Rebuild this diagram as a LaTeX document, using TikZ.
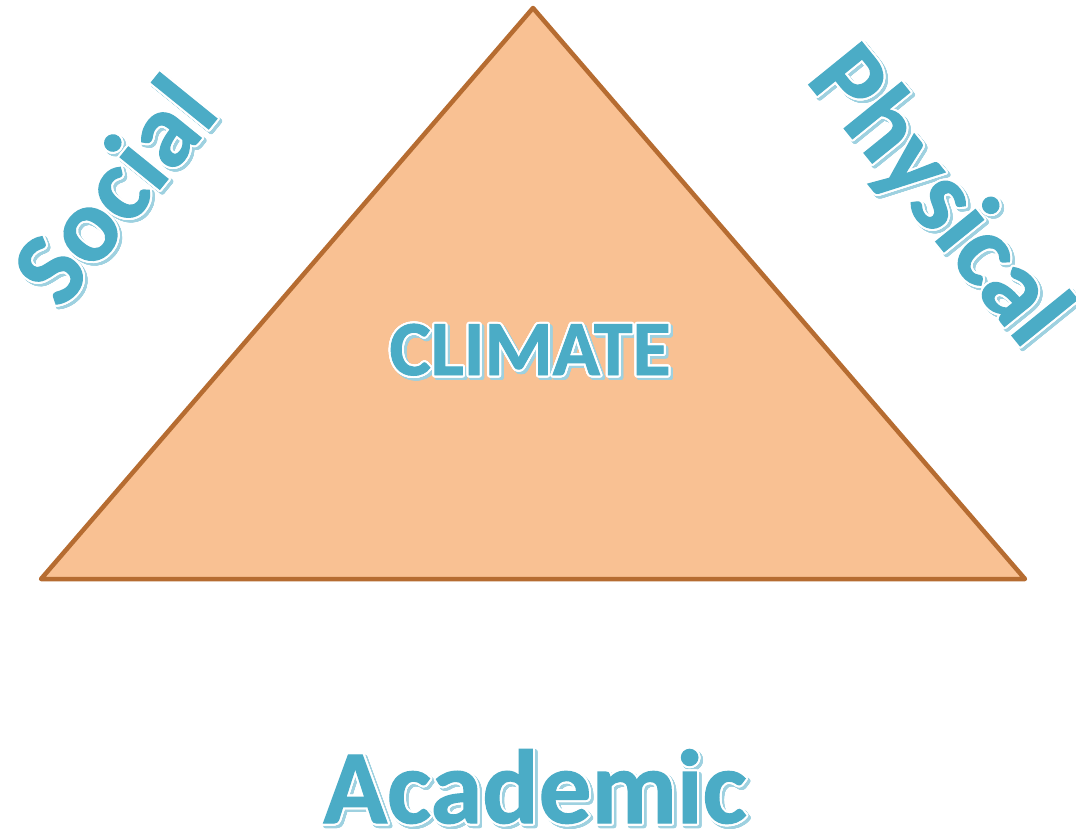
\documentclass[tikz,border=0pt]{standalone}
\usepackage{fontspec}
\setmainfont{Carlito}[BoldFeatures={FakeBold=1.2}]
\usepackage{contour}
\contournumber{32}
\definecolor{txt}{HTML}{4BACC6}
\definecolor{shd}{HTML}{9ED1E0}
\definecolor{tfill}{HTML}{F9C193}
\definecolor{tline}{HTML}{B66C31}
\newcommand\mainlbl[1]{\contourlength{2pt}\textcolor{txt}{\contour{white}{#1}}}
\newcommand\shdlbl[1]{\contourlength{2pt}\textcolor{shd}{\contour{shd}{#1}}}
\tikzset{
  biglbl/.style={inner sep=0pt, font=\bfseries\fontsize{105}{107}\selectfont},
  midlbl/.style={inner sep=0pt, font=\bfseries\fontsize{78}{80}\selectfont},
  tri/.style={draw=tline, fill=tfill, line width=4.5pt, line join=round},
}
\begin{document}
\begin{tikzpicture}[x=1pt,y=-1pt]
\useasboundingbox (0,0) rectangle (1076,836);
\coordinate (top) at (533,8);
\coordinate (bl) at (41,579);
\coordinate (br) at (1025,579);
\draw[tri] (top) -- (bl) -- (br) -- cycle;
% shadows
\node[midlbl, anchor=base] (climS) at (532.5,377.5) {\shdlbl{CLIMATE}};
\node[biglbl, anchor=base] (acadS) at (537.5,825.5) {\shdlbl{Academic}};
\node[biglbl, rotate=51] (socS) at (116,192.5) {\shdlbl{Social}};
\node[biglbl, rotate=-51] (physS) at (938.5,200.5) {\shdlbl{Physical}};
% main text
\node[midlbl, anchor=base] (clim) at (530,375) {\mainlbl{CLIMATE}};
\node[biglbl, anchor=base] (acad) at (535,823) {\mainlbl{Academic}};
\node[biglbl, rotate=51] (soc) at (113.5,190) {\mainlbl{Social}};
\node[biglbl, rotate=-51] (phys) at (936,198) {\mainlbl{Physical}};
\end{tikzpicture}
\end{document}
